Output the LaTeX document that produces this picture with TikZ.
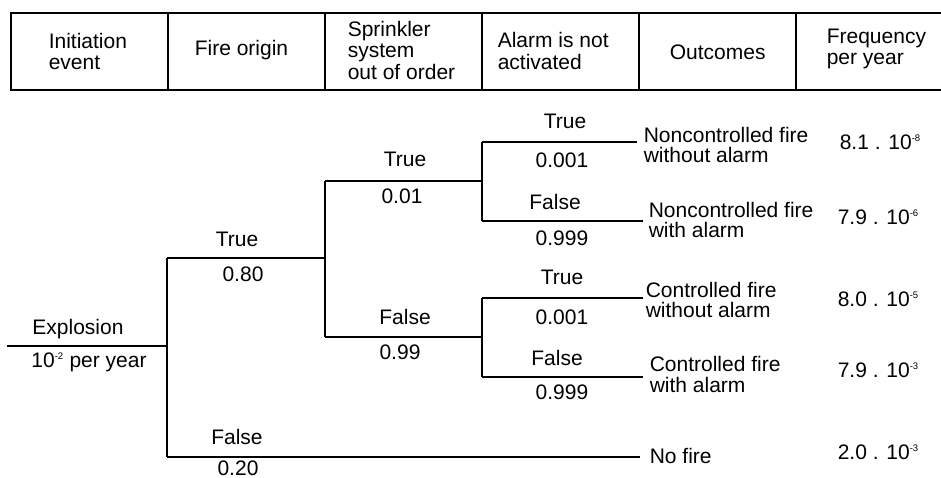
\documentclass[tikz,border=0pt]{standalone}
\usepackage{fontspec}
\setmainfont{Liberation Sans}
\newcommand\pw[1]{\textsuperscript{\fontsize{9.5}{9.5}\selectfont #1}}
\begin{document}
\begin{tikzpicture}[x=1pt,y=-1pt,
  line width=1.6pt,
  txt/.style={inner sep=0pt, font=\fontsize{21}{21.5}\selectfont},
  lft/.style={txt, anchor=west, align=left},
  ctr/.style={txt, anchor=center},
  branch/.style={draw=black, line width=1.7pt}]
\useasboundingbox (0,0) rectangle (941,478);

% header table
\draw (941,13) -- (11,13) -- (11,90) -- (941,90);
\foreach \x in {168,325,482,639,796} \draw (\x,13) -- (\x,90);
\node[lft] (h1) at (48,51.5) {Initiation\\event};
\node[lft] (h2) at (194,50) {Fire origin};
\node[lft] (h3) at (347,50) {Sprinkler\\system\\out of order};
\node[lft] (h4) at (497,51) {Alarm is not\\activated};
\node[lft] (h5) at (669,52) {Outcomes};
\node[lft] (h6) at (826,49) {Frequency\\per year};

% tree junctions and end points
\coordinate (start) at (7,346);
\coordinate (j1) at (167,346);
\coordinate (j1t) at (167,258);
\coordinate (j1f) at (167,457);
\coordinate (j2t) at (325,258);
\coordinate (j2a) at (325,181);
\coordinate (j2b) at (325,337);
\coordinate (j3a) at (482,181);
\coordinate (j3at) at (482,142);
\coordinate (j3af) at (482,221);
\coordinate (j3b) at (482,337);
\coordinate (j3bt) at (482,298);
\coordinate (j3bf) at (482,377);
\coordinate (e1) at (637,142);
\coordinate (e2) at (643,221);
\coordinate (e3) at (643,298);
\coordinate (e4) at (643,377);
\coordinate (e5) at (640,457);

\draw[branch] (start) -- (j1);
\draw[branch] (j1t) -- (j1f);
\draw[branch] (j1t) -- (j2t);
\draw[branch] (j1f) -- (e5);
\draw[branch] (j2a) -- (j2b);
\draw[branch] (j2a) -- (j3a);
\draw[branch] (j2b) -- (j3b);
\draw[branch] (j3at) -- (j3af);
\draw[branch] (j3bt) -- (j3bf);
\draw[branch] (j3at) -- (e1);
\draw[branch] (j3af) -- (e2);
\draw[branch] (j3bt) -- (e3);
\draw[branch] (j3bf) -- (e4);

% branch labels
\node[ctr] (lexp) at (78,329) {Explosion};
\node[ctr] (lexpf) at (89,362) {10\pw{-2} per year};
\node[ctr] (l1t) at (237,239) {True};
\node[ctr] (l1tp) at (243,274) {0.80};
\node[ctr] (l1f) at (237,437) {False};
\node[ctr] (l1fp) at (238,468) {0.20};
\node[ctr] (l2t) at (405,159) {True};
\node[ctr] (l2tp) at (402,196) {0.01};
\node[ctr] (l2f) at (405,317) {False};
\node[ctr] (l2fp) at (400,352) {0.99};
\node[ctr] (l3t) at (565,121) {True};
\node[ctr] (l3tp) at (562,160) {0.001};
\node[ctr] (l3f) at (555,202) {False};
\node[ctr] (l3fp) at (562,238) {0.999};
\node[ctr] (l4t) at (562,277) {True};
\node[ctr] (l4tp) at (562,317) {0.001};
\node[ctr] (l4f) at (557,358) {False};
\node[ctr] (l4fp) at (562,392) {0.999};

% outcomes
\node[lft, font=\fontsize{21}{20.5}\selectfont] (o1) at (643,145) {Noncontrolled fire\\without alarm};
\node[lft, font=\fontsize{21}{20.5}\selectfont] (o2) at (648,220) {Noncontrolled fire\\with alarm};
\node[lft, font=\fontsize{21}{20.5}\selectfont] (o3) at (645,300) {Controlled fire\\without alarm};
\node[lft, font=\fontsize{21}{20.5}\selectfont] (o4) at (649,374.5) {Controlled fire\\with alarm};
\node[lft] (o5) at (649,456) {No fire};

% frequencies
\node[lft] (f1) at (839,142) {8.1 . 10\pw{-8}};
\node[lft] (f2) at (837,217) {7.9 . 10\pw{-6}};
\node[lft] (f3) at (837,299) {8.0 . 10\pw{-5}};
\node[lft] (f4) at (837,370) {7.9 . 10\pw{-3}};
\node[lft] (f5) at (837,452) {2.0 . 10\pw{-3}};
\end{tikzpicture}
\end{document}
